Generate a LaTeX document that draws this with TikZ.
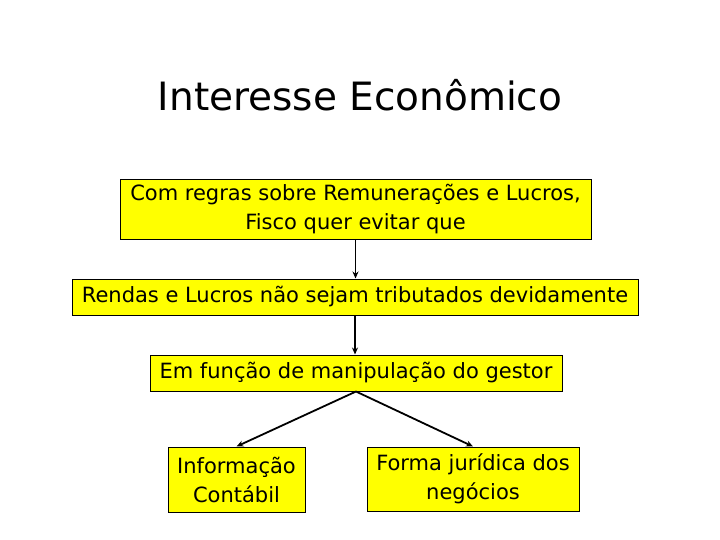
\documentclass[tikz,border=0pt]{standalone}
\usepackage{fontspec}
\setmainfont{DejaVu Sans}
\usetikzlibrary{arrows.meta}
\definecolor{boxyellow}{RGB}{255,255,0}
\begin{document}
\begin{tikzpicture}[x=1pt,y=-1pt,
  box/.style={draw=black, line width=1pt, fill=boxyellow, inner sep=0pt, align=center, font=\fontsize{21}{29}\selectfont},
  arr/.style={-{Stealth[length=7pt,width=6pt]}, line width=1.8pt}]
\useasboundingbox (0,0) rectangle (720,540);
\node (title) at (360,95) {\fontsize{39}{42}\selectfont Interesse Econômico};
\node[box, minimum width=471, minimum height=59] (b1) at (355.5,209.5) {Com regras sobre Remunerações e Lucros,\\Fisco quer evitar que};
\node[box, minimum width=566, minimum height=36] (b2) at (355,297) {Rendas e Lucros não sejam tributados devidamente};
\node[box, minimum width=412, minimum height=36] (b3) at (356,373) {Em função de manipulação do gestor};
\node[box, minimum width=137, minimum height=65] (b4) at (236.5,479.5) {Informação\\Contábil};
\node[box, minimum width=212, minimum height=64] (b5) at (473,479) {Forma jurídica dos\\negócios};
\draw[arr] (b1.south) -- (b1.south |- b2.north);
\draw[arr] (b2.south) -- (b2.south |- b3.north);
\draw[arr] (b3.south) -- (b4.north);
\draw[arr] (b3.south) -- (b5.north);
\end{tikzpicture}
\end{document}
